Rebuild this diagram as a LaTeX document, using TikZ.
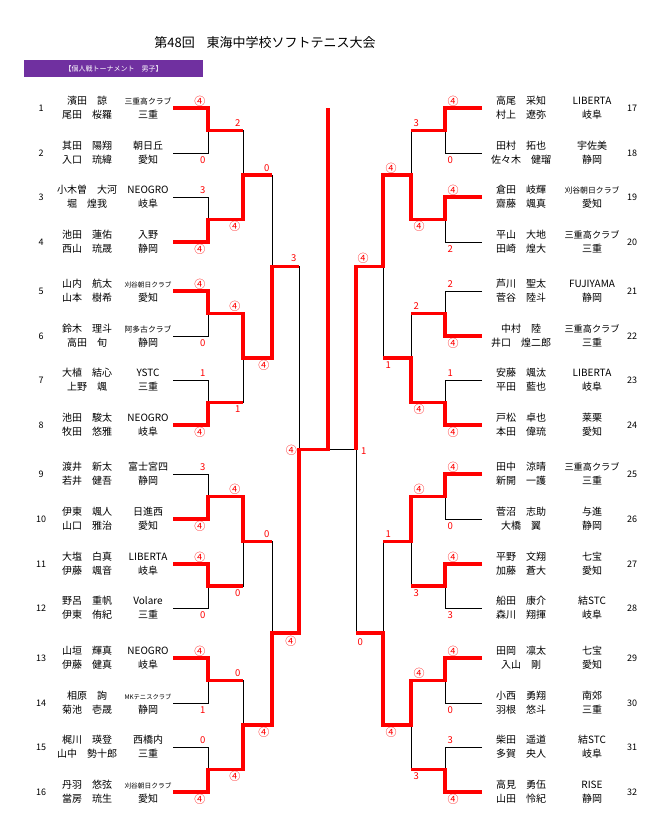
\documentclass[tikz,border=0pt]{standalone}
\usepackage{fontspec}
\setmainfont{Noto Sans CJK JP}
\usepackage{graphicx}
\definecolor{bannerpurple}{RGB}{112,48,160}
\definecolor{wred}{RGB}{255,0,0}
\newsavebox\fitbox
\newcommand\fitw[2]{\sbox\fitbox{#2}\ifdim\wd\fitbox>#1\relax\resizebox{#1}{!}{\usebox\fitbox}\else\usebox\fitbox\fi}
\newcounter{lbl}
\newcommand\W{{\fontsize{11}{11}\selectfont ④}}
\newcommand\sL[3]{\stepcounter{lbl}\node[sc,anchor=east] (lbl\arabic{lbl}) at (#1,#2) {#3};}
\newcommand\sR[3]{\stepcounter{lbl}\node[sc,anchor=west] (lbl\arabic{lbl}) at (#1,#2) {#3};}
\newcommand\playerL[6]{%
  \node[numtxt] (n#1) at (41,#2) {#1};
  \node[nm] (a#1) at (87,#2-7) {#3};
  \node[nm] (b#1) at (87,#2+7) {#4};
  \node[nm] (c#1) at (148,#2-7) {\fitw{47pt}{#5}};
  \node[nm] (d#1) at (148,#2+7) {#6};}
\newcommand\playerR[6]{%
  \node[numtxt] (n#1) at (632,#2) {#1};
  \node[nm] (a#1) at (521,#2-7) {#3};
  \node[nm] (b#1) at (521,#2+7) {#4};
  \node[nm] (c#1) at (592,#2-7) {\fitw{55pt}{#5}};
  \node[nm] (d#1) at (592,#2+7) {#6};}
\def\pLa{173}\def\pLb{208}\def\pLc{243}\def\pLd{272}\def\pLe{299}\def\pCx{328}
\def\pRa{482}\def\pRb{445}\def\pRc{411}\def\pRd{383}\def\pRe{356}
\begin{document}
\begin{tikzpicture}[x=1pt,y=-1pt,
  bk/.style={line width=0.8pt,black},
  rd/.style={line width=3.3pt,wred,line join=miter},
  nm/.style={inner sep=0pt,font=\fontsize{10}{10}\selectfont,text height=8.8pt,text depth=1.2pt},
  numtxt/.style={inner sep=0pt,font=\fontsize{9}{9}\selectfont},
  sc/.style={inner sep=0pt,text=wred,font=\fontsize{9.5}{9.5}\selectfont}]
\fill[white] (0,0) rectangle (663,834);
\useasboundingbox (0,0) rectangle (663,834);

% title and banner
\node (title) at (265,43) {\fontsize{13}{13}\selectfont 第48回\hspace{0.9em}東海中学校ソフトテニス大会};
\node[fill=bannerpurple,minimum width=179pt,minimum height=17pt,inner sep=0pt,text=white,font=\fontsize{7}{7}\selectfont] (banner) at (113.5,68.5) {【個人戦トーナメント　男子】};

% black bracket
\foreach \a/\b in {108/153,197/242,291/336,380/425,474/519,564/608,658/703,747/792}{
  \draw[bk] (\pLa,\a) -- (\pLb,\a) -- (\pLb,\b) -- (\pLa,\b);
  \draw[bk] (\pRa,\a) -- (\pRb,\a) -- (\pRb,\b) -- (\pRa,\b);}
\foreach \a/\b in {130.5/219.5,313.5/402.5,496.5/586,680.5/769.5}{
  \draw[bk] (\pLb,\a) -- (\pLc,\a) -- (\pLc,\b) -- (\pLb,\b);
  \draw[bk] (\pRb,\a) -- (\pRc,\a) -- (\pRc,\b) -- (\pRb,\b);}
\foreach \a/\b in {175/358,541.25/725}{
  \draw[bk] (\pLc,\a) -- (\pLd,\a) -- (\pLd,\b) -- (\pLc,\b);
  \draw[bk] (\pRc,\a) -- (\pRd,\a) -- (\pRd,\b) -- (\pRc,\b);}
\draw[bk] (\pLd,266.5) -- (\pLe,266.5) -- (\pLe,633) -- (\pLd,633);
\draw[bk] (\pRd,266.5) -- (\pRe,266.5) -- (\pRe,633) -- (\pRd,633);
\draw[bk] (\pLe,449.75) -- (\pRe,449.75);

% red winner paths, left
\draw[rd] (\pLa,108) -- (\pLb,108) -- (\pLb,130.5) -- (\pLc,130.5);
\draw[rd] (\pLa,242) -- (\pLb,242) -- (\pLb,219.5) -- (\pLc,219.5) -- (\pLc,175) -- (\pLd,175);
\draw[rd] (\pLa,291) -- (\pLb,291) -- (\pLb,313.5) -- (\pLc,313.5) -- (\pLc,358) -- (\pLd,358) -- (\pLd,266.5) -- (\pLe,266.5);
\draw[rd] (\pLa,425) -- (\pLb,425) -- (\pLb,402.5) -- (\pLc,402.5);
\draw[rd] (\pLa,519) -- (\pLb,519) -- (\pLb,496.5) -- (\pLc,496.5) -- (\pLc,541.25) -- (\pLd,541.25);
\draw[rd] (\pLa,564) -- (\pLb,564) -- (\pLb,586) -- (\pLc,586);
\draw[rd] (\pLa,658) -- (\pLb,658) -- (\pLb,680.5) -- (\pLc,680.5);
\draw[rd] (\pLa,792) -- (\pLb,792) -- (\pLb,769.5) -- (\pLc,769.5) -- (\pLc,725) -- (\pLd,725) -- (\pLd,633) -- (\pLe,633) -- (\pLe,449.75) -- (\pCx,449.75) -- (\pCx,108);
% red winner paths, right
\draw[rd] (\pRa,108) -- (\pRb,108) -- (\pRb,130.5) -- (\pRc,130.5);
\draw[rd] (\pRa,197) -- (\pRb,197) -- (\pRb,219.5) -- (\pRc,219.5) -- (\pRc,175) -- (\pRd,175) -- (\pRd,266.5) -- (\pRe,266.5) -- (\pRe,449.75);
\draw[rd] (\pRa,336) -- (\pRb,336) -- (\pRb,313.5) -- (\pRc,313.5);
\draw[rd] (\pRa,425) -- (\pRb,425) -- (\pRb,402.5) -- (\pRc,402.5) -- (\pRc,358) -- (\pRd,358);
\draw[rd] (\pRa,474) -- (\pRb,474) -- (\pRb,496.5) -- (\pRc,496.5) -- (\pRc,541.25) -- (\pRd,541.25);
\draw[rd] (\pRa,564) -- (\pRb,564) -- (\pRb,586) -- (\pRc,586);
\draw[rd] (\pRa,658) -- (\pRb,658) -- (\pRb,680.5) -- (\pRc,680.5) -- (\pRc,725) -- (\pRd,725) -- (\pRd,633) -- (\pRe,633);
\draw[rd] (\pRa,792) -- (\pRb,792) -- (\pRb,769.5) -- (\pRc,769.5);

% scores left
\sL{205.5}{101}{\W}\sL{205.5}{160}{0}\sL{205.5}{190}{3}\sL{205.5}{249}{\W}
\sL{205.5}{284}{\W}\sL{205.5}{343}{0}\sL{205.5}{373}{1}\sL{205.5}{432}{\W}
\sL{205.5}{467}{3}\sL{205.5}{526}{\W}\sL{205.5}{557}{\W}\sL{205.5}{615}{0}
\sL{205.5}{651}{\W}\sL{205.5}{710}{1}\sL{205.5}{740}{0}\sL{205.5}{799}{\W}
\sL{240.5}{123.5}{2}\sL{240.5}{226.5}{\W}\sL{240.5}{306.5}{\W}\sL{240.5}{409.5}{1}
\sL{240.5}{489.5}{\W}\sL{240.5}{593}{0}\sL{240.5}{673.5}{0}\sL{240.5}{776.5}{\W}
\sL{269.5}{168}{0}\sL{269.5}{365}{\W}\sL{269.5}{534}{0}\sL{269.5}{732}{\W}
\sL{296.5}{258}{3}\sL{296.5}{641}{\W}
\sL{297}{450}{\W}
% scores right
\sR{447.5}{101}{\W}\sR{447.5}{160}{0}\sR{447.5}{190}{\W}\sR{447.5}{249}{2}
\sR{447.5}{284}{2}\sR{447.5}{343}{\W}\sR{447.5}{373}{1}\sR{447.5}{432}{\W}
\sR{447.5}{467}{\W}\sR{447.5}{526}{0}\sR{447.5}{557}{\W}\sR{447.5}{615}{3}
\sR{447.5}{651}{\W}\sR{447.5}{710}{0}\sR{447.5}{740}{3}\sR{447.5}{799}{\W}
\sR{413.5}{123.5}{3}\sR{413.5}{226.5}{\W}\sR{413.5}{306.5}{2}\sR{413.5}{409.5}{\W}
\sR{413.5}{489.5}{\W}\sR{413.5}{593}{3}\sR{413.5}{673.5}{\W}\sR{413.5}{776.5}{3}
\sR{385.5}{168}{\W}\sR{385.5}{365}{1}\sR{385.5}{534}{1}\sR{385.5}{732}{\W}
\sR{357.5}{258}{\W}\sR{357.5}{642}{0}
\sR{361}{451}{1}

% players left
\playerL{1}{108}{濱田　諒}{尾田　桜羅}{三重高クラブ}{三重}
\playerL{2}{153}{其田　陽翔}{入口　琉緯}{朝日丘}{愛知}
\playerL{3}{197}{小木曽　大河}{堀　煌我}{NEOGRO}{岐阜}
\playerL{4}{242}{池田　蓮佑}{西山　琉晟}{入野}{静岡}
\playerL{5}{291}{山内　航太}{山本　樹希}{刈谷朝日クラブ}{愛知}
\playerL{6}{336}{鈴木　理斗}{高田　旬}{阿多古クラブ}{静岡}
\playerL{7}{380}{大植　結心}{上野　颯}{YSTC}{三重}
\playerL{8}{425}{池田　駿太}{牧田　悠雅}{NEOGRO}{岐阜}
\playerL{9}{474}{渡井　新太}{若井　健吾}{富士宮四}{静岡}
\playerL{10}{519}{伊東　颯人}{山口　雅治}{日進西}{愛知}
\playerL{11}{564}{大塩　白真}{伊藤　颯音}{LIBERTA}{岐阜}
\playerL{12}{608}{野呂　重帆}{伊東　侑紀}{Volare}{三重}
\playerL{13}{658}{山垣　輝真}{伊藤　健真}{NEOGRO}{岐阜}
\playerL{14}{703}{相原　詢}{菊池　壱晟}{MKテニスクラブ}{静岡}
\playerL{15}{747}{梶川　瑛登}{山中　勢十郎}{西橋内}{三重}
\playerL{16}{792}{丹羽　悠弦}{當房　琉生}{刈谷朝日クラブ}{愛知}
% players right
\playerR{17}{108}{高尾　采知}{村上　遼弥}{LIBERTA}{岐阜}
\playerR{18}{153}{田村　拓也}{佐々木　健瑠}{宇佐美}{静岡}
\playerR{19}{197}{倉田　岐輝}{齋藤　颯真}{刈谷朝日クラブ}{愛知}
\playerR{20}{242}{平山　大地}{田崎　煌大}{三重高クラブ}{三重}
\playerR{21}{291}{芦川　聖太}{菅谷　陸斗}{FUJIYAMA}{静岡}
\playerR{22}{336}{中村　陸}{井口　煌二郎}{三重高クラブ}{三重}
\playerR{23}{380}{安藤　颯汰}{平田　藍也}{LIBERTA}{岐阜}
\playerR{24}{425}{戸松　卓也}{本田　偉琉}{莱栗}{愛知}
\playerR{25}{474}{田中　涼晴}{新開　一護}{三重高クラブ}{三重}
\playerR{26}{519}{菅沼　志助}{大橋　翼}{与進}{静岡}
\playerR{27}{564}{平野　文翔}{加藤　蒼大}{七宝}{愛知}
\playerR{28}{608}{船田　康介}{森川　翔揮}{結STC}{岐阜}
\playerR{29}{658}{田岡　凛太}{入山　剛}{七宝}{愛知}
\playerR{30}{703}{小西　勇翔}{羽根　悠斗}{南郊}{三重}
\playerR{31}{747}{柴田　遥道}{多賀　央人}{結STC}{岐阜}
\playerR{32}{792}{高見　勇伍}{山田　怜紀}{RISE}{静岡}
\end{tikzpicture}
\end{document}
